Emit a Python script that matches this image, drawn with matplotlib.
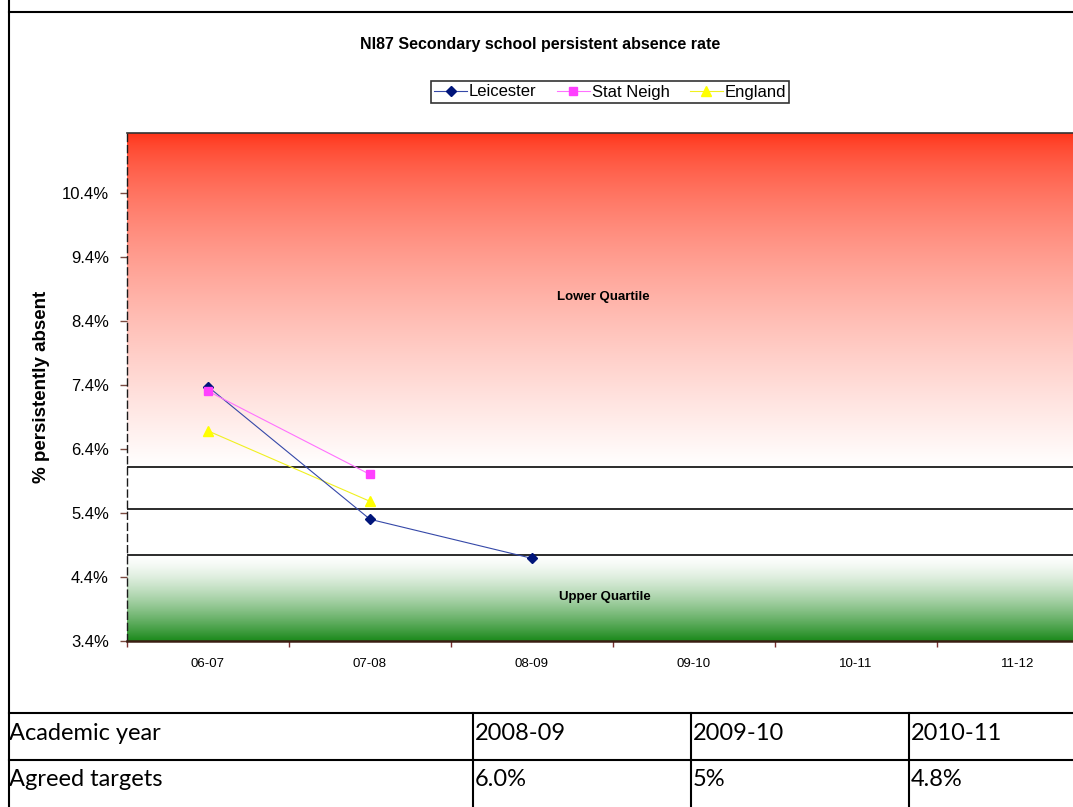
import numpy as np
import matplotlib
matplotlib.use("Agg")
import matplotlib.pyplot as plt
from matplotlib.lines import Line2D

plt.rcParams['font.family'] = ['Liberation Sans', 'DejaVu Sans']

# ---- data -------------------------------------------------------------
categories = ['06-07', '07-08', '08-09', '09-10', '10-11', '11-12']
leicester = [7.37, 5.30, 4.69]
stat_neigh = [7.30, 6.00]
england = [6.68, 5.58]
band_lines = [6.12, 5.46, 4.75]          # quartile boundaries
y_ticks = [3.4, 4.4, 5.4, 6.4, 7.4, 8.4, 9.4, 10.4]
y_min, y_max = 3.4, 11.33

table_header = 'Academic year'
table_years = ['2008-09', '2009-10', '2010-11']
table_row = 'Agreed targets'
table_targets = ['6.0%', '5%', '4.8%']

# ---- figure -----------------------------------------------------------
W, H = 1073, 807
fig = plt.figure(figsize=(W / 100, H / 100), dpi=100)


def fx(px):
    return px / W


def fy(py):
    return 1 - py / H


# plot area (extends past the right edge of the page)
left_px, top_px, bottom_px, width_px = 127, 133, 641, 972
ax = fig.add_axes([fx(left_px), fy(bottom_px), width_px / W, (bottom_px - top_px) / H])
ax.set_xlim(-0.5, len(categories) - 0.5)
ax.set_ylim(y_min, y_max)

# background bands: red fading to white above the top line, white to green below the bottom one
n = 600
yy = np.linspace(y_min, y_max, n)
img = np.ones((n, 1, 3))
red = np.array([255, 48, 20]) / 255
green = np.array([28, 138, 28]) / 255
white = np.ones(3)
for i, v in enumerate(yy):
    if v >= band_lines[0]:
        g = (y_max - v) / (y_max - band_lines[0])   # 0 at the top, 1 at the line
        img[i, 0] = red + (g ** 0.65) * (white - red)
    elif v <= band_lines[-1]:
        f = (band_lines[-1] - v) / (band_lines[-1] - y_min)
        img[i, 0] = white + (f ** 1.45) * (green - white)
ax.imshow(img, extent=[-0.5, len(categories) - 0.5, y_min, y_max], origin='lower',
          aspect='auto', zorder=0, interpolation='bilinear')

for v in band_lines:
    ax.axhline(v, color='#1a1a1a', lw=1.3, zorder=2)

ax.text(2.44, 8.77, 'Lower Quartile', fontsize=9.5, fontweight='bold', ha='center', va='center', zorder=3)
ax.text(2.45, 4.09, 'Upper Quartile', fontsize=9.5, fontweight='bold', ha='center', va='center', zorder=3)

x = np.arange(len(categories))
l1, = ax.plot(x[:len(leicester)], leicester, color='#3548a8', lw=0.8, marker='D', ms=5,
              mfc='#00157a', mec='#00157a', zorder=5, label='Leicester')
l2, = ax.plot(x[:len(stat_neigh)], stat_neigh, color='#ff70ff', lw=0.8, marker='s', ms=6,
              mfc='#ff40ff', mec='#ff40ff', zorder=6, label='Stat Neigh')
l3, = ax.plot(x[:len(england)], england, color='#f0f020', lw=0.8, marker='^', ms=6.5,
              mfc='#ffff00', mec='#ffff00', zorder=4, label='England')

# axes styling
ax.set_yticks(y_ticks)
ax.set_yticklabels([f'{v:.1f}%' for v in y_ticks])
ax.tick_params(axis='y', length=5, width=1, color='#7a4a40', pad=8, labelsize=12)
ax.set_xticks(x)
ax.set_xticklabels(categories, fontsize=9.5)
ax.tick_params(axis='x', which='major', length=0, pad=12)
ax.set_xticks(np.arange(-0.5, len(categories), 1.0), minor=True)
ax.tick_params(axis='x', which='minor', length=4, width=1, color='#7a3030')

ax.spines['top'].set_color('#333333')
ax.spines['top'].set_linewidth(1.2)
ax.spines['right'].set_visible(False)
ax.spines['bottom'].set_color('#3a1e12')
ax.spines['bottom'].set_linewidth(1.8)
ax.spines['left'].set_color('#1a1a1a')
ax.spines['left'].set_linestyle((0, (5, 3)))
ax.spines['left'].set_linewidth(1.0)

ax.set_ylabel('% persistently absent', fontsize=13.5, fontweight='bold')
ax.yaxis.set_label_coords((50 - left_px) / width_px, 0.5)

fig.text(fx(540), fy(44), 'NI87 Secondary school persistent absence rate', fontsize=11.5,
         fontweight='bold', ha='center', va='center')

leg = fig.legend(handles=[l1, l2, l3], loc='center', bbox_to_anchor=(fx(610), fy(92)), ncol=3,
                 frameon=True, fancybox=False, edgecolor='black', fontsize=12,
                 handlelength=2.0, handletextpad=0.1, columnspacing=1.2, borderpad=0.2,
                 borderaxespad=0)
leg.get_frame().set_linewidth(1.2)

# page frame and target table
def hline(py, x0=9, x1=W):
    fig.add_artist(Line2D([fx(x0), fx(x1)], [fy(py), fy(py)], color='black', lw=1.5))


def vline(px, y0, y1):
    fig.add_artist(Line2D([fx(px), fx(px)], [fy(y0), fy(y1)], color='black', lw=1.5))


hline(12)
hline(713)
hline(760)
vline(9, 0, H)
for px in (473, 691, 909):
    vline(px, 713, H)

tfont = ['Lato', 'DejaVu Sans']
fig.text(fx(9), fy(733), table_header, fontsize=17, family=tfont, va='center')
fig.text(fx(9), fy(780), table_row, fontsize=17, family=tfont, va='center')
for px, yr, tg in zip((475, 693, 911), table_years, table_targets):
    fig.text(fx(px), fy(733), yr, fontsize=17, family=tfont, va='center')
    fig.text(fx(px), fy(780), tg, fontsize=17, family=tfont, va='center')

fig.savefig('out.png', dpi=100)
